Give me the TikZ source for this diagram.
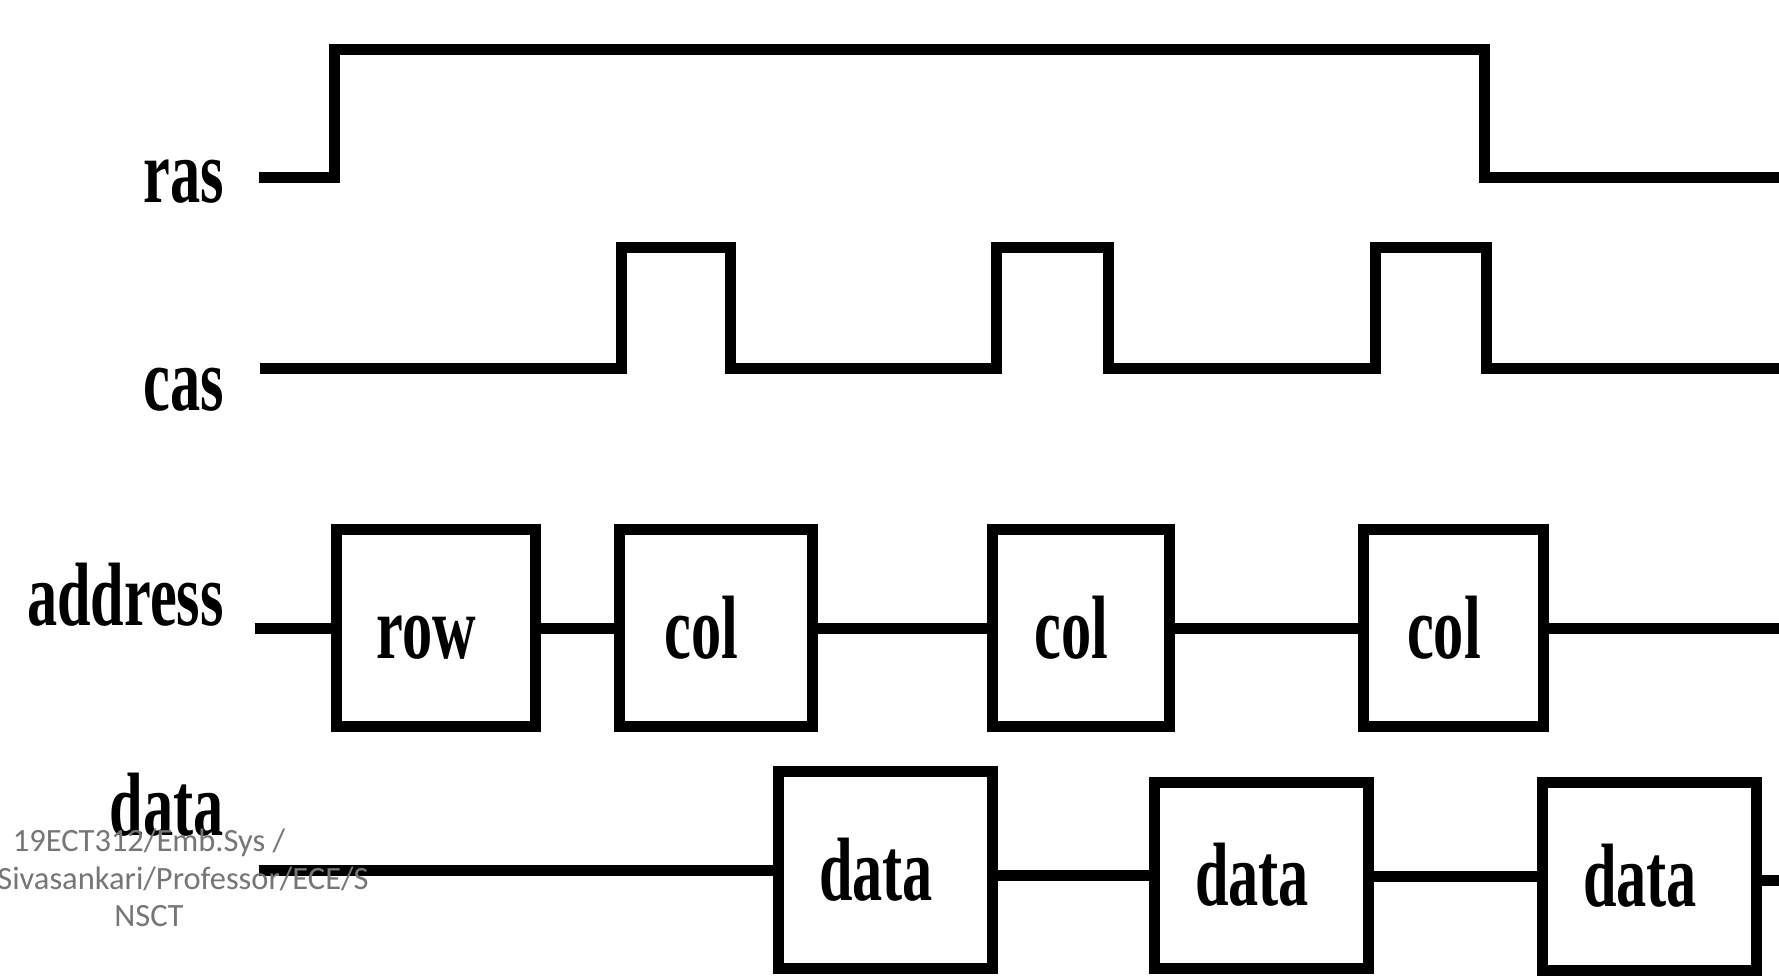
\documentclass[tikz,border=0pt]{standalone}
\usepackage{fontspec}
\setmainfont{Liberation Serif}
\newfontfamily\wmfont{Carlito}
\usepackage{graphicx}
\definecolor{wmgray}{RGB}{118,118,118}
\newcommand\sig[1]{\scalebox{0.67}[1]{\fontsize{90}{90}\selectfont\bfseries\vphantom{d}#1}}
\newcommand\boxtxt[1]{\sig{#1}\hspace*{18pt}}
\begin{document}
\begin{tikzpicture}[x=1pt,y=-1pt,
  wave/.style={line width=11pt, line join=miter, line cap=butt},
  busbox/.style={draw, line width=11pt, rectangle, inner sep=0pt, minimum height=197pt},
  siglabel/.style={anchor=base east, inner sep=0pt},
]
\useasboundingbox (0,0) rectangle (1779,977);
\fill[white] (0,0) rectangle (1779,977);

% labels
\node[siglabel] (lras) at (224,202) {\sig{ras}};
\node[siglabel] (lcas) at (224,410) {\sig{cas}};
\node[siglabel] (laddr) at (224,625) {\sig{address}};
\node[siglabel] (ldata) at (224,835) {\sig{data}};

% ras
\coordinate (ras0) at (259,177);
\coordinate (ras1) at (1779,177);
\draw[wave] (ras0) -- (334,177) -- (334,49) -- (1484,49) -- (1484,177) -- (ras1);

% cas
\coordinate (cas0) at (260,368);
\coordinate (cas1) at (1779,368);
\draw[wave] (cas0) -- (621,368) -- (621,247) -- (730,247) -- (730,368)
  -- (996,368) -- (996,247) -- (1108,247) -- (1108,368)
  -- (1375,368) -- (1375,247) -- (1486,247) -- (1486,368) -- (cas1);

% address
\node[busbox, minimum width=199pt] (row) at (435.5,628) {\boxtxt{row}};
\node[busbox, minimum width=193pt] (col1) at (715.5,628) {\sig{col}\hspace*{28pt}};
\node[busbox, minimum width=177pt] (col2) at (1080.5,628) {\boxtxt{col}};
\node[busbox, minimum width=180pt] (col3) at (1453,628) {\boxtxt{col}};
\coordinate (a0) at (255,628);
\coordinate (a1) at (1779,628);
\draw[wave] (a0) -- (row.west);
\draw[wave] (row.east) -- (col1.west);
\draw[wave] (col1.east) -- (col2.west);
\draw[wave] (col2.east) -- (col3.west);
\draw[wave] (col3.east) -- (a1);

% data
\node[busbox, minimum width=214pt] (d1) at (885,870) {\boxtxt{data}};
\node[busbox, minimum width=214pt, minimum height=186pt] (d2) at (1261,875) {\boxtxt{data}};
\node[busbox, minimum width=214pt, minimum height=188pt] (d3) at (1649,876) {\boxtxt{data}};
\coordinate (dd0) at (259,870);
\coordinate (dd1) at (1779,880);
\draw[wave] (dd0) -- (d1.west);
\draw[wave] (d1.east |- d2.west) -- (d2.west);
\draw[wave] (d2.east |- d3.west) -- (d3.west);
\draw[wave] (d3.east) -- (dd1 -| d3.east) -- (dd1);

% watermark
\node[font=\wmfont\fontsize{32.5}{37.5}\selectfont, text=wmgray, align=center, inner sep=0pt] (wm) at (149,878) {19ECT312/Emb.Sys /\\\hspace*{68pt}Sivasankari/Professor/ECE/S\\NSCT};
\end{tikzpicture}
\end{document}
